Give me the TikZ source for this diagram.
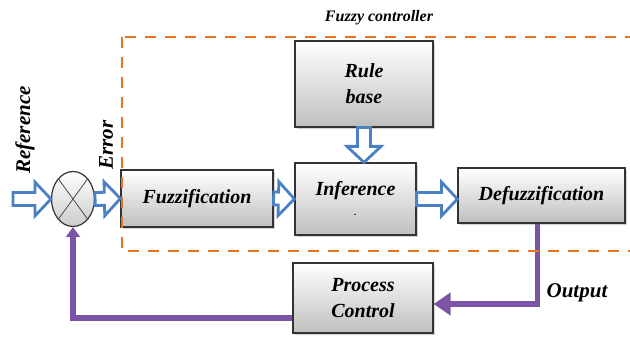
\documentclass[tikz,border=0pt]{standalone}
\usepackage{fontspec}
\setmainfont{Liberation Serif}
\usepackage{tikz}
\usetikzlibrary{calc,shapes.geometric,shadows,arrows.meta}
\definecolor{arrowblue}{RGB}{74,128,196}
\definecolor{loopviolet}{RGB}{122,84,166}
\definecolor{frameorange}{RGB}{232,115,35}
\tikzset{
  block/.style={draw=black!80, line width=1.2pt, top color=white, bottom color=black!25,
    drop shadow={opacity=.35, shadow xshift=2pt, shadow yshift=-2pt},
    font=\fontsize{20}{26}\selectfont\bfseries\itshape, align=center, inner sep=2pt},
  sidelabel/.style={font=\fontsize{21}{24}\selectfont\bfseries\itshape, inner sep=0pt},
  hollow/.style={draw=arrowblue, line width=2.8pt, fill=white, line join=miter,
    to path={($(\tikztostart)!6.5pt!90:(\tikztotarget)$)
      -- ($(\tikztotarget)!16pt!(\tikztostart)!6.5pt!90:(\tikztotarget)$)
      -- ($(\tikztotarget)!16pt!(\tikztostart)!17pt!90:(\tikztotarget)$)
      -- (\tikztotarget)
      -- ($(\tikztotarget)!16pt!(\tikztostart)!17pt!-90:(\tikztotarget)$)
      -- ($(\tikztotarget)!16pt!(\tikztostart)!6.5pt!-90:(\tikztotarget)$)
      -- ($(\tikztostart)!6.5pt!-90:(\tikztotarget)$) -- cycle}},
  loop/.style={draw=loopviolet, line width=5.5pt, line join=miter},
}
\begin{document}
\begin{tikzpicture}[x=1pt,y=1pt]
  \clip (0,0) rectangle (630,340);
  % blocks
  \node[ellipse, draw=black!80, line width=1.2pt, top color=white, bottom color=black!20,
    minimum width=43pt, minimum height=55pt, inner sep=0pt] (sum) at (73,141) {};
  \draw[black!70, line width=.8pt] (sum.54) -- (sum.234) (sum.126) -- (sum.306);
  \node[block, minimum width=152pt, minimum height=57pt] (fuzz) at (197,141.5) {Fuzzification};
  \node[block, minimum width=121pt, minimum height=72pt] (inf) at (355.5,141) {Inference\\[-6pt]{\small .}};
  \node[block, minimum width=138pt, minimum height=86pt] (rule) at (364,256) {Rule\\base};
  \node[block, minimum width=167pt, minimum height=55pt] (defuzz) at (541.5,144.5) {Defuzzification};
  \node[block, minimum width=140pt, minimum height=70pt] (proc) at (363,42) {Process\\Control};
  \coordinate (ref) at (13,141);
  % hollow arrows
  \draw[hollow] (ref) to (sum.west);
  \draw[hollow] (sum.east) to (fuzz.west);
  \draw[hollow] (fuzz.east) to (inf.west);
  \draw[hollow] (inf.east) to (inf.east -| defuzz.west);
  \draw[hollow] (rule.south) to (rule.south |- inf.north);
  % loop
  \draw[loop, -{Triangle[length=17pt,width=22pt]}] ([xshift=-4pt]defuzz.south) |- ([yshift=-6pt]proc.east);
  \draw[loop, -{Triangle[length=10pt,width=14pt]}] ([yshift=-20pt]proc.west) -| (sum.south);
  % frame
  \draw[frameorange, line width=2.8pt, dash pattern=on 11pt off 9pt] (122,303) rectangle (645,89);
  \node[font=\fontsize{16}{18}\selectfont\bfseries\itshape] (title) at (379,322) {Fuzzy controller};
  \node[sidelabel, rotate=90] (reflabel) at (25,210) {Reference};
  \node[sidelabel, rotate=90] (errlabel) at (106,195) {Error};
  \node[sidelabel] (outlabel) at (577,47) {Output};
\end{tikzpicture}
\end{document}
